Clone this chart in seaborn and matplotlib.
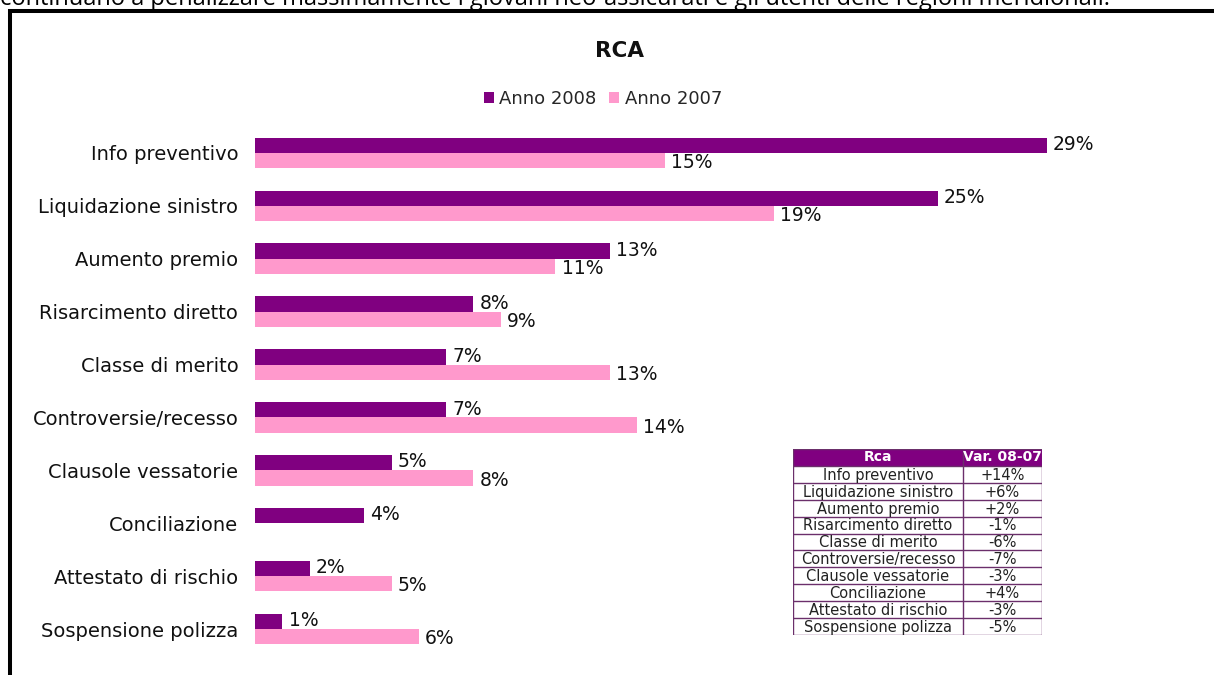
import numpy as np
import pandas as pd
import matplotlib
matplotlib.use("Agg")
import matplotlib.pyplot as plt
from matplotlib.lines import Line2D
from matplotlib.patches import Rectangle
import seaborn as sns

# ---- data ----
categories = [
    "Info preventivo",
    "Liquidazione sinistro",
    "Aumento premio",
    "Risarcimento diretto",
    "Classe di merito",
    "Controversie/recesso",
    "Clausole vessatorie",
    "Conciliazione",
    "Attestato di rischio",
    "Sospensione polizza",
]
anno_2008 = [29, 25, 13, 8, 7, 7, 5, 4, 2, 1]
anno_2007 = [15, 19, 11, 9, 13, 14, 8, 0, 5, 6]
series_names = ["Anno 2008", "Anno 2007"]
series_colors = ["#800080", "#FF99CC"]
chart_title = "RCA"
table_header = ["Rca", "Var. 08-07"]
intro_text = ("continuano a penalizzare massimamente i giovani neo-assicurati "
              "e gli utenti delle regioni meridionali.")

df = pd.DataFrame({
    "Voce": categories * 2,
    "Quota": anno_2008 + anno_2007,
    "Anno": [series_names[0]] * len(categories) + [series_names[1]] * len(categories),
})

sns.set_theme(style="white")
plt.rcParams["font.family"] = ["DejaVu Sans"]

W, H = 1214, 675
fig = plt.figure(figsize=(W / 100, H / 100), dpi=100)


def fx(px):
    return px / W


def fy(py):
    return 1 - py / H


# ---- bar chart ----
px_per_unit = 27.3
x_max = 30
top_px, bottom_px = 126.5, 655.5
ax = fig.add_axes([fx(255), fy(bottom_px), px_per_unit * x_max / W, (bottom_px - top_px) / H])
sns.barplot(data=df, y="Voce", x="Quota", hue="Anno", order=categories,
            hue_order=series_names, palette=series_colors, saturation=1,
            width=0.58, errorbar=None, orient="h", legend=False,
            linewidth=0, edgecolor="none", ax=ax)
ax.set_xlim(0, x_max)
ax.set_ylim(len(categories) - 0.5, -0.5)
ax.set_xticks([])
ax.set_xlabel("")
ax.set_ylabel("")
ax.tick_params(axis="y", length=0, pad=12, labelsize=14, labelcolor="#111111")
for s in ax.spines.values():
    s.set_visible(False)
ax.set_facecolor("none")

for container, dy in zip(ax.containers, [0.5, -1.5]):
    for patch in container:
        w = patch.get_width()
        if w > 0:
            ax.annotate(f"{w:.0f}%", (w, patch.get_y() + patch.get_height() / 2),
                        xytext=(4.5, dy), textcoords="offset points",
                        ha="left", va="center", fontsize=13.5, color="#111111")

# ---- title and legend ----
fig.text(fx(619), fy(51), chart_title, ha="center", va="center",
         fontsize=15.5, fontweight="bold", color="#111111")
handles = [Rectangle((0, 0), 1, 1, facecolor=c, edgecolor="none") for c in series_colors]
fig.legend(handles, series_names, loc="center", bbox_to_anchor=(fx(603), fy(99)),
           ncol=2, frameon=False, fontsize=13, handlelength=0.55, handleheight=0.55,
           handletextpad=0.3, columnspacing=0.7, borderpad=0)

# ---- variation table ----
tbl_x0, tbl_x1, tbl_y0, tbl_y1 = 793, 1042, 449, 635
col_split = 170
tax = fig.add_axes([fx(tbl_x0), fy(tbl_y1), (tbl_x1 - tbl_x0) / W, (tbl_y1 - tbl_y0) / H])
tw = tbl_x1 - tbl_x0
n_rows = len(categories) + 1
tax.set_xlim(0, tw)
tax.set_ylim(n_rows, 0)
tax.axis("off")
tax.add_patch(Rectangle((0, 0), tw, 1, facecolor="#800080", edgecolor="none"))
line_col = "#6b2f6b"
for i in range(n_rows + 1):
    tax.plot([0, tw], [i, i], color=line_col, lw=1.0, solid_capstyle="butt")
tax.plot([0, 0], [0, n_rows], color=line_col, lw=1.0)
tax.plot([tw, tw], [0, n_rows], color=line_col, lw=1.0)
tax.plot([col_split, col_split], [0, n_rows], color=line_col, lw=1.0)
tax.text(col_split / 2, 0.5, table_header[0], ha="center", va="center",
         fontsize=10, fontweight="bold", color="white")
tax.text((col_split + tw) / 2, 0.5, table_header[1], ha="center", va="center",
         fontsize=10, fontweight="bold", color="white")
for i, (name, a8, a7) in enumerate(zip(categories, anno_2008, anno_2007), start=1):
    tax.text(col_split / 2, i + 0.55, name, ha="center", va="center",
             fontsize=10.5, color="#222222")
    tax.text((col_split + tw) / 2, i + 0.55, f"{a8 - a7:+d}%", ha="center", va="center",
             fontsize=10.5, color="#222222")

# ---- frame and running text above it ----
fig.add_artist(Line2D([fx(9.5), fx(9.5)], [fy(8.5), 0], color="black", lw=2.9,
                      solid_capstyle="butt"))
fig.add_artist(Line2D([fx(7.5), 1], [fy(10.5), fy(10.5)], color="black", lw=2.9,
                      solid_capstyle="butt"))
fig.text(fx(0), fy(5), intro_text, ha="left", va="baseline", fontsize=17,
         family=["Open Sans", "DejaVu Sans"], color="black")

fig.savefig("out.png", dpi=100, facecolor="white")
